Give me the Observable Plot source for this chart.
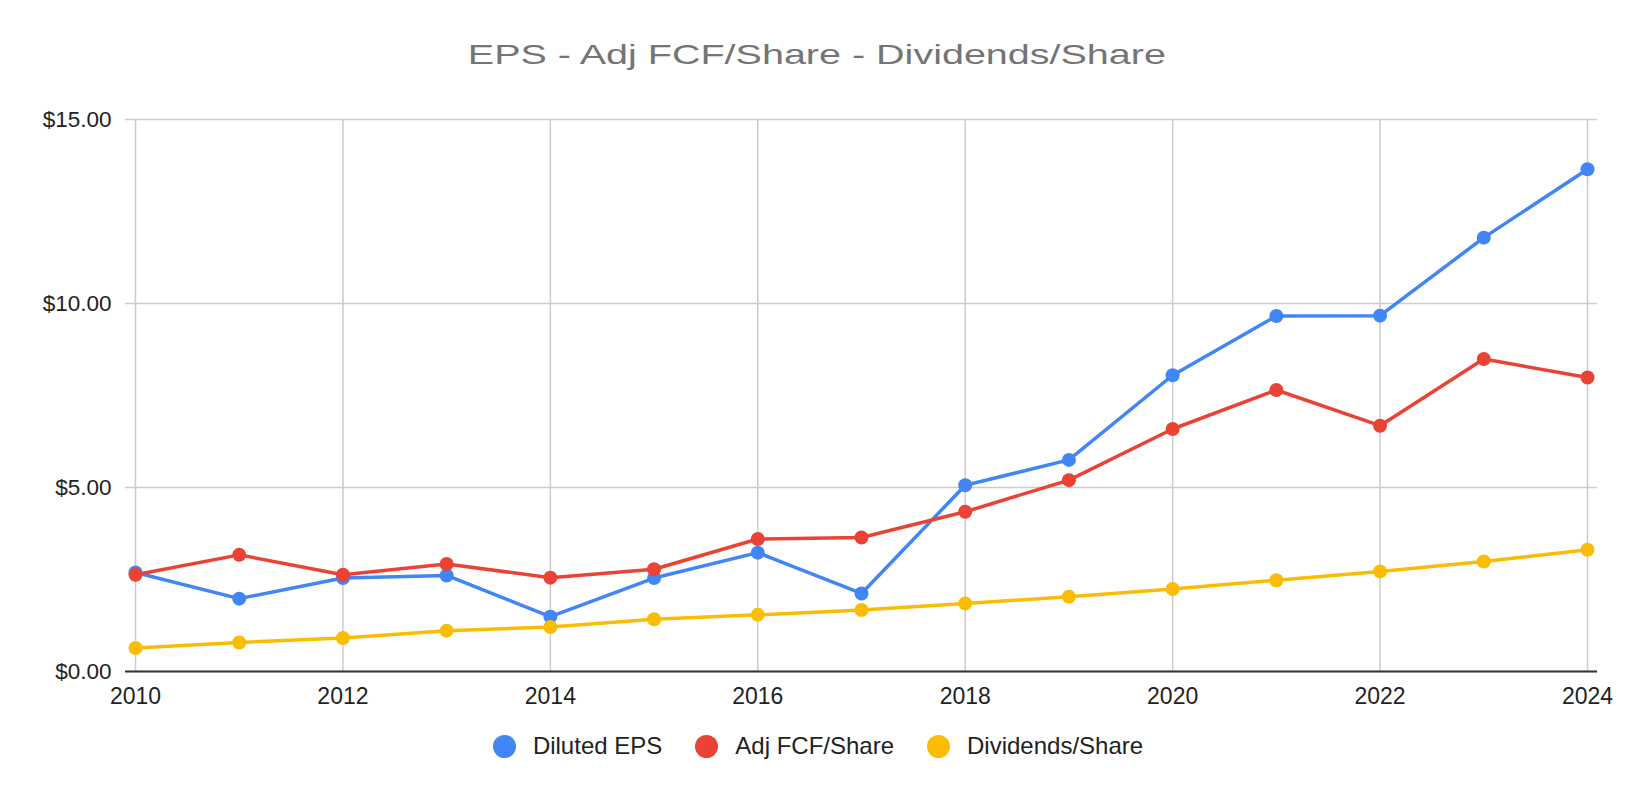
<!DOCTYPE html>
<html>
<head>
<meta charset="utf-8">
<script src="https://cdn.jsdelivr.net/npm/d3@7"></script>
<script src="https://cdn.jsdelivr.net/npm/@observablehq/plot@0.6"></script>
<style>
  html, body { margin: 0; padding: 0; background: #fff; }
  #page { position: relative; width: 1636px; height: 798px; overflow: hidden; background: #fff; font-family: Arial, "Liberation Sans", sans-serif; }
  #title { position: absolute; left: 0; top: 40px; width: 1633px; text-align: center; font-size: 28.5px; line-height: 28.5px; color: #757575; white-space: nowrap; }
  #title span { display: inline-block; transform: scaleX(1.386); transform-origin: 50% 50%; }
  #chart { position: absolute; left: 0; top: 88px; }
  #legend { position: absolute; left: 0; top: 734px; width: 1636px; height: 24px; display: flex; justify-content: center; align-items: center; font-size: 24px; line-height: 24px; color: #222; }
  .item { display: flex; align-items: center; margin: 0 16.5px; }
  .sw { width: 23px; height: 23px; border-radius: 50%; margin-right: 17px; }
</style>
</head>
<body>
<div id="page">
  <div id="title"><span>EPS - Adj FCF/Share - Dividends/Share</span></div>
  <div id="chart"></div>
  <div id="legend"></div>
</div>
<script>
const years = [2010, 2011, 2012, 2013, 2014, 2015, 2016, 2017, 2018, 2019, 2020, 2021, 2022, 2023, 2024];
const dilutedEPS = [2.69, 1.98, 2.54, 2.61, 1.49, 2.54, 3.23, 2.12, 5.06, 5.75, 8.05, 9.66, 9.67, 11.79, 13.65];
const adjFCFShare = [2.63, 3.17, 2.63, 2.92, 2.55, 2.78, 3.60, 3.64, 4.34, 5.20, 6.59, 7.65, 6.68, 8.49, 7.99];
const dividendsShare = [0.64, 0.79, 0.91, 1.11, 1.21, 1.42, 1.54, 1.67, 1.85, 2.03, 2.24, 2.48, 2.72, 2.99, 3.31];
const seriesNames = ["Diluted EPS", "Adj FCF/Share", "Dividends/Share"];
const seriesColors = ["#4285F4", "#EA4335", "#FBBC04"];
const xTicks = [2010, 2012, 2014, 2016, 2018, 2020, 2022, 2024];
const yTicks = [0, 5, 10, 15];

const seriesValues = [dilutedEPS, adjFCFShare, dividendsShare];
const data = [];
seriesNames.forEach((name, i) => {
  years.forEach((yr, j) => data.push({series: name, year: yr, value: seriesValues[i][j]}));
});

const chart = Plot.plot({
  width: 1636,
  height: 633,
  marginTop: 31,
  marginBottom: 50,
  marginLeft: 135,
  marginRight: 49,
  style: {fontFamily: 'Arial, "Liberation Sans", sans-serif', background: "transparent", color: "#222", overflow: "visible"},
  x: {domain: [2010, 2024], type: "linear"},
  y: {domain: [0, 15]},
  color: {domain: seriesNames, range: seriesColors},
  marks: [
    Plot.gridX(xTicks, {stroke: "#cccccc", strokeOpacity: 1, strokeWidth: 1.5}),
    Plot.gridY(yTicks, {stroke: "#cccccc", strokeOpacity: 1, strokeWidth: 1.5, insetLeft: -10, insetRight: -10}),
    Plot.ruleY([0], {stroke: "#333333", strokeWidth: 2, insetLeft: -10, insetRight: -10}),
    Plot.axisY(yTicks, {tickFormat: d3.format("$.2f"), tickSize: 0, tickPadding: 24, fontSize: 22.5, fill: "#222", label: null}),
    Plot.axisX(xTicks, {tickFormat: d3.format("d"), tickSize: 0, tickPadding: 16, fontSize: 23, fill: "#222", label: null}),
    Plot.line(data, {x: "year", y: "value", z: "series", stroke: "series", strokeWidth: 3.5}),
    Plot.dot(data, {x: "year", y: "value", fill: "series", r: 7, stroke: "none"})
  ]
});
document.getElementById("chart").appendChild(chart);

const legend = document.getElementById("legend");
seriesNames.forEach((name, i) => {
  const item = document.createElement("div");
  item.className = "item";
  const sw = document.createElement("span");
  sw.className = "sw";
  sw.style.background = seriesColors[i];
  const label = document.createElement("span");
  label.textContent = name;
  item.appendChild(sw);
  item.appendChild(label);
  legend.appendChild(item);
});
</script>
</body>
</html>
